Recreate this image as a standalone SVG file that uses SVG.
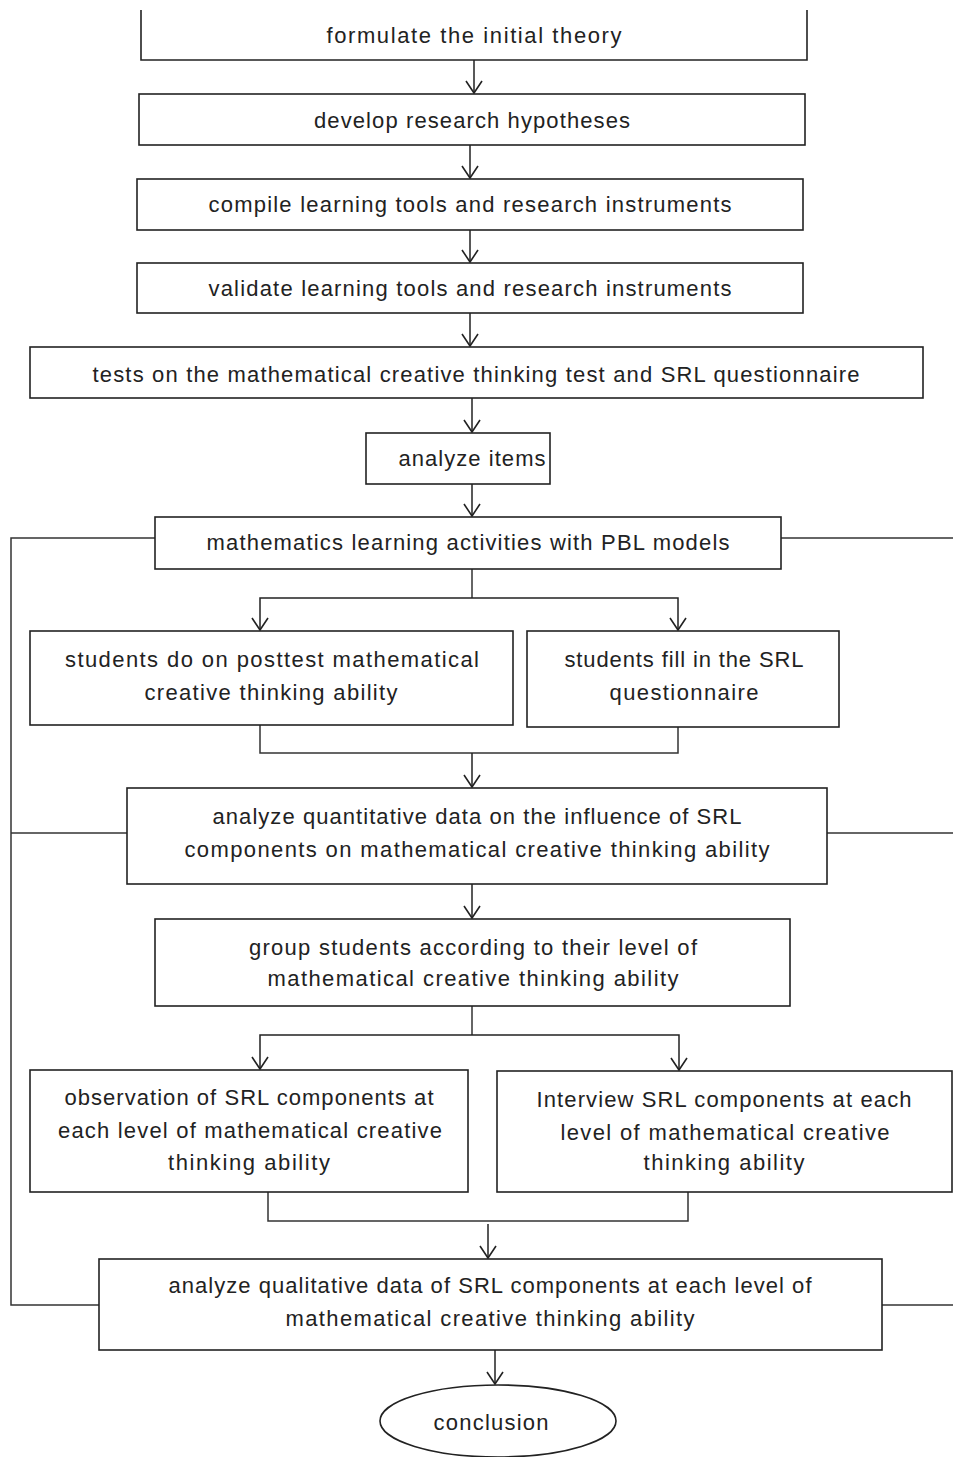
<svg xmlns="http://www.w3.org/2000/svg" width="953" height="1457" viewBox="0 0 953 1457">
<defs>
<marker id="arr" markerWidth="20" markerHeight="20" refX="15" refY="10" orient="auto" markerUnits="userSpaceOnUse" viewBox="0 0 20 20">
<polyline points="3,2 15,10 3,18" fill="none" stroke="#222" stroke-width="1.6"/>
</marker>
<style>
.box{fill:#fff;stroke:#222;stroke-width:1.6}
.ln{fill:none;stroke:#333;stroke-width:1.5}
.ar{fill:none;stroke:#222;stroke-width:1.5;marker-end:url(#arr)}
text{font-family:"Liberation Sans","DejaVu Sans",sans-serif;font-size:22px;fill:#222;text-anchor:middle;dominant-baseline:central}
</style>
</defs>
<rect width="953" height="1457" fill="#fff"/>
<g id="connectors">
<line class="ar" x1="474" y1="60" x2="474" y2="93"/>
<line class="ar" x1="470" y1="145" x2="470" y2="178"/>
<line class="ar" x1="470" y1="230" x2="470" y2="262"/>
<line class="ar" x1="470" y1="313" x2="470" y2="346"/>
<line class="ar" x1="472" y1="398" x2="472" y2="432"/>
<line class="ar" x1="472" y1="484" x2="472" y2="516"/>
<polyline class="ln" points="472,569 472,598"/>
<polyline class="ar" points="472,598 260,598 260,630"/>
<polyline class="ar" points="472,598 678,598 678,630"/>
<polyline class="ln" points="260,725 260,753 678,753 678,727"/>
<line class="ar" x1="472" y1="753" x2="472" y2="787"/>
<line class="ar" x1="472" y1="884" x2="472" y2="918"/>
<polyline class="ln" points="472,1006 472,1035"/>
<polyline class="ar" points="472,1035 260,1035 260,1069"/>
<polyline class="ar" points="472,1035 679,1035 679,1070"/>
<polyline class="ln" points="268,1192 268,1221 688,1221 688,1192"/>
<line class="ar" x1="488" y1="1224" x2="488" y2="1258"/>
<line class="ar" x1="495" y1="1350" x2="495" y2="1384"/>
<polyline class="ln" points="155,538 11,538 11,1305 99,1305"/>
<line class="ln" x1="11" y1="833" x2="127" y2="833"/>
<line class="ln" x1="781" y1="538" x2="953" y2="538"/>
<line class="ln" x1="827" y1="833" x2="953" y2="833"/>
<line class="ln" x1="882" y1="1305" x2="953" y2="1305"/>
</g>
<g id="n1"><path class="box" d="M141,10 V60 H807 V10"/><text x="474" y="35" textLength="295">formulate the initial theory</text></g>
<g id="n2"><rect class="box" x="139" y="94" width="666" height="51"/><text x="472" y="120" textLength="316">develop research hypotheses</text></g>
<g id="n3"><rect class="box" x="137" y="179" width="666" height="51"/><text x="470" y="204" textLength="523">compile learning tools and research instruments</text></g>
<g id="n4"><rect class="box" x="137" y="263" width="666" height="50"/><text x="470" y="288" textLength="523">validate learning tools and research instruments</text></g>
<g id="n5"><rect class="box" x="30" y="347" width="893" height="51"/><text x="476" y="374" textLength="767">tests on the mathematical creative thinking test and SRL questionnaire</text></g>
<g id="n6"><rect class="box" x="366" y="433" width="184" height="51"/><text x="472" y="458" textLength="147">analyze items</text></g>
<g id="n7"><rect class="box" x="155" y="517" width="626" height="52"/><text x="468" y="542" textLength="523">mathematics learning activities with PBL models</text></g>
<g id="n8"><rect class="box" x="30" y="631" width="483" height="94"/><text x="272" y="659" textLength="414">students do on posttest mathematical</text><text x="271" y="692" textLength="253">creative thinking ability</text></g>
<g id="n9"><rect class="box" x="527" y="631" width="312" height="96"/><text x="684" y="659" textLength="239">students fill in the SRL</text><text x="684" y="692" textLength="149">questionnaire</text></g>
<g id="n10"><rect class="box" x="127" y="788" width="700" height="96"/><text x="477" y="816" textLength="529">analyze quantitative data on the influence of SRL</text><text x="477" y="849" textLength="585">components on mathematical creative thinking ability</text></g>
<g id="n11"><rect class="box" x="155" y="919" width="635" height="87"/><text x="473" y="947" textLength="448">group students according to their level of</text><text x="473" y="978" textLength="411">mathematical creative thinking ability</text></g>
<g id="n12"><rect class="box" x="30" y="1070" width="438" height="122"/><text x="249" y="1097" textLength="369">observation of SRL components at</text><text x="250" y="1130" textLength="384">each level of mathematical creative</text><text x="249" y="1162" textLength="162">thinking ability</text></g>
<g id="n13"><rect class="box" x="497" y="1071" width="455" height="121"/><text x="724" y="1099" textLength="375">Interview SRL components at each</text><text x="725" y="1132" textLength="329">level of mathematical creative</text><text x="724" y="1162" textLength="161">thinking ability</text></g>
<g id="n14"><rect class="box" x="99" y="1259" width="783" height="91"/><text x="490" y="1285" textLength="643">analyze qualitative data of SRL components at each level of</text><text x="490" y="1318" textLength="409">mathematical creative thinking ability</text></g>
<g id="n15"><ellipse class="box" cx="498" cy="1421" rx="118" ry="36"/><text x="491" y="1422" textLength="115">conclusion</text></g>
</svg>
